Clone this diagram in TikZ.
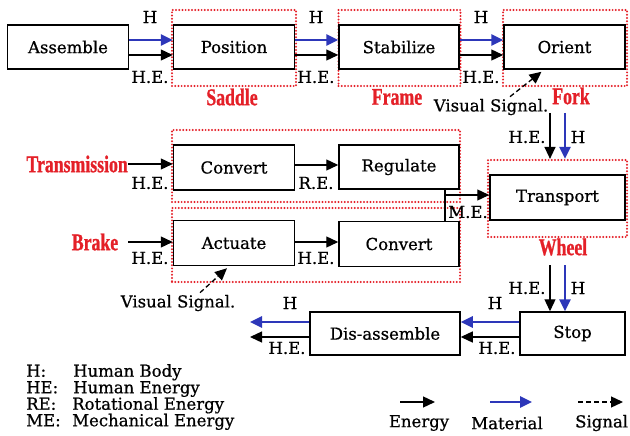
\documentclass[tikz,border=0pt]{standalone}
\usepackage{fontspec}
\setmainfont[FakeBold=0.7]{DejaVu Serif}
\newfontfamily\redfont[FakeStretch=0.74,FakeBold=1]{Liberation Serif}
\usetikzlibrary{arrows.meta}
\definecolor{matblue}{RGB}{45,55,185}
\definecolor{lblred}{RGB}{228,32,40}
\begin{document}
\begin{tikzpicture}[x=1pt,y=-1pt,
  fbox/.style={draw,line width=1.5pt,minimum width=121pt,minimum height=44pt,inner sep=0pt,font=\fontsize{16.5}{18}\selectfont},
  grp/.style={draw=lblred,line width=2.2pt,line cap=round,dash pattern=on 0pt off 3.2pt,inner sep=0pt},
  lbl/.style={font=\fontsize{16.5}{18}\selectfont,inner sep=0pt},
  rlbl/.style={text=lblred,font=\redfont\bfseries\fontsize{24}{26}\selectfont,inner sep=0pt},
  tip/.style={-{Triangle[length=12pt,width=11pt]}},
  en/.style={line width=1.3pt,tip},
  mat/.style={matblue,line width=2.6pt,tip},
  sig/.style={dash pattern=on 5pt off 3pt,line width=1.3pt,tip}]
\useasboundingbox (0,0) rectangle (630,436);
% groups
\node[grp,minimum width=124pt,minimum height=76pt] (saddlegrp) at (234,48) {};
\node[grp,minimum width=122pt,minimum height=76pt] (framegrp) at (399.5,48) {};
\node[grp,minimum width=124pt,minimum height=76pt] (forkgrp) at (565,48) {};
\node[grp,minimum width=288pt,minimum height=72pt] (transgrp) at (316,166) {};
\node[grp,minimum width=288pt,minimum height=74pt] (brakegrp) at (316,245) {};
\node[grp,minimum width=139pt,minimum height=77pt] (wheelgrp) at (557.5,198.5) {};
% boxes
\node[fbox,fill=white] (assemble) at (68,47) {Assemble};
\node[fbox,fill=white] (position) at (234,47) {Position};
\node[fbox,fill=white,minimum width=120pt] (stabilize) at (399,47) {Stabilize};
\node[fbox,fill=white] (orient) at (564.5,47) {Orient};
\node[fbox,fill=white,minimum height=45pt] (conv1) at (234,167.5) {Convert};
\node[fbox,fill=white,minimum width=120pt] (regulate) at (399,167) {Regulate};
\node[fbox,fill=white,minimum height=45pt] (actuate) at (234,243) {Actuate};
\node[fbox,fill=white,minimum width=120pt,minimum height=45pt] (conv2) at (399,244) {Convert};
\node[fbox,fill=white,minimum width=135pt,minimum height=45pt] (transport) at (557.5,197.5) {Transport};
\node[fbox,fill=white,minimum width=105pt,minimum height=43pt] (stop) at (572.5,333.5) {Stop};
\node[fbox,fill=white,minimum width=150pt,minimum height=43pt] (disas) at (385,333.5) {Dis-assemble};
% red labels
\node[rlbl] (saddle) at (232,97) {Saddle};
\node[rlbl] (frame) at (397,97) {Frame};
\node[rlbl] (fork) at (571,96) {Fork};
\node[rlbl,anchor=east] (trans) at (128,164) {Transmission};
\node[rlbl] (brake) at (95,242) {Brake};
\node[rlbl] (wheel) at (563,247) {Wheel};
% top row flows
\draw[mat] ([yshift=7pt]assemble.east) -- ([yshift=7pt]position.west);
\draw[en] ([yshift=-8pt]assemble.east) -- ([yshift=-8pt]position.west);
\draw[mat] ([yshift=7pt]position.east) -- ([yshift=7pt]stabilize.west);
\draw[en] ([yshift=-8pt]position.east) -- ([yshift=-8pt]stabilize.west);
\draw[mat] ([yshift=7pt]stabilize.east) -- ([yshift=7pt]orient.west);
\draw[en] ([yshift=-8pt]stabilize.east) -- ([yshift=-8pt]orient.west);
\node[lbl] (h1) at (150,17) {H};
\node[lbl] (he1) at (150,77) {H.E.};
\node[lbl] (h2) at (316,17) {H};
\node[lbl] (he2) at (316,77) {H.E.};
\node[lbl] (h3) at (481,17) {H};
\node[lbl] (he3) at (481,77) {H.E.};
% visual signal (top)
\node[lbl] (vs1) at (491,107) {Visual Signal.};
\draw[sig] ([xshift=19pt,yshift=2pt]vs1.north) -- ([xshift=-23pt,yshift=-2pt]orient.south);
% transmission / brake
\draw[en] (trans.east) -- (trans.east -| conv1.west);
\draw[en] ([xshift=10pt]brake.east) -- (brake.east -| actuate.west);
\node[lbl] (he4) at (150,183) {H.E.};
\node[lbl] (he5) at (150,258) {H.E.};
\draw[en] ([yshift=2.5pt]conv1.east) -- ([yshift=2pt]regulate.west);
\draw[en] ([yshift=1pt]actuate.east) -- ([yshift=2pt]conv2.west);
\node[lbl] (re) at (316,183) {R.E.};
\node[lbl] (he6) at (316,258) {H.E.};
\node[lbl] (vs2) at (178,303) {Visual Signal.};
\draw[sig] ([xshift=22pt,yshift=2pt]vs2.north) -- ([xshift=-7pt,yshift=-2pt]actuate.south);
% mechanical energy
\coordinate (mej) at (445,195);
\draw[line width=1.3pt] (regulate.south -| mej) -- (conv2.north -| mej);
\draw[en] (mej) -- (mej -| transport.west);
\node[lbl] (me) at (468,212) {M.E.};
% into transport
\coordinate (t1) at (550,113);
\coordinate (t2) at (565,113);
\draw[en] (t1) -- (t1 |- wheelgrp.north);
\draw[mat] (t2) -- (t2 |- wheelgrp.north);
\node[lbl] (he7) at (527,137) {H.E.};
\node[lbl] (h7) at (578,137) {H};
% into stop
\coordinate (s1) at (550,265);
\coordinate (s2) at (565,265);
\draw[en] (s1) -- (s1 |- stop.north);
\draw[mat] (s2) -- (s2 |- stop.north);
\node[lbl] (he8) at (527,288) {H.E.};
\node[lbl] (h8) at (578,288) {H};
% stop -> disassemble
\draw[mat] ([yshift=11.5pt]stop.west) -- ([yshift=11.5pt]disas.east);
\draw[en] ([yshift=-3.5pt]stop.west) -- ([yshift=-3.5pt]disas.east);
\node[lbl] (h9) at (495,303) {H};
\node[lbl] (he9) at (497,348) {H.E.};
\coordinate (d1) at (250,322);
\coordinate (d2) at (250,337);
\draw[mat] (disas.west |- d1) -- (d1);
\draw[en] (disas.west |- d2) -- (d2);
\node[lbl] (h10) at (290,303) {H};
\node[lbl] (he10) at (287,348) {H.E.};
% legend
\node[anchor=north west,inner sep=0pt,font=\fontsize{16.5}{16.5}\selectfont,align=left] (legend) at (26,364)
  {\makebox[47pt][l]{H:}Human Body\\ \makebox[47pt][l]{HE:}Human Energy\\ \makebox[46pt][l]{RE:}Rotational Energy\\ \makebox[46pt][l]{ME:}Mechanical Energy};
\coordinate (le1) at (400,402); \coordinate (le2) at (435,402);
\coordinate (lm1) at (490,402); \coordinate (lm2) at (532,402);
\coordinate (ls1) at (578,402); \coordinate (ls2) at (623,402);
\draw[en] (le1) -- (le2);
\draw[mat] (lm1) -- (lm2);
\draw[sig] (ls1) -- (ls2);
\node[lbl] (lge) at (419,423) {Energy};
\node[lbl] (lgm) at (507,423) {Material};
\node[lbl,anchor=west] (lgs) at (575,423) {Signal};
\end{tikzpicture}
\end{document}
